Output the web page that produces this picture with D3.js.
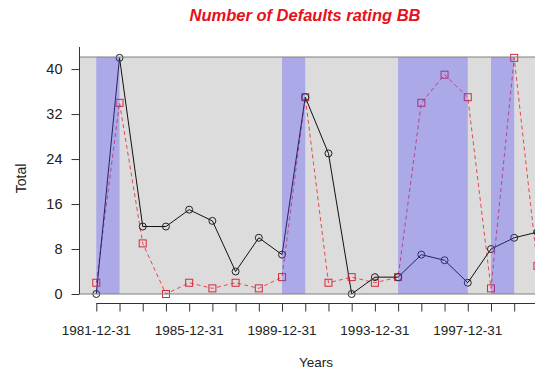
<!DOCTYPE html>
<html>
<head>
<meta charset="utf-8">
<script src="https://cdn.jsdelivr.net/npm/d3@7"></script>
<style>
  html, body { margin: 0; padding: 0; background: #ffffff; }
  svg { display: block; }
  text { font-family: "Liberation Sans", Arial, sans-serif; fill: #222; }
</style>
</head>
<body>
<svg id="chart" width="535" height="376"></svg>
<script>
// Yearly default counts (rating BB)
const years = [1981, 1982, 1983, 1984, 1985, 1986, 1987, 1988, 1989, 1990,
               1991, 1992, 1993, 1994, 1995, 1996, 1997, 1998, 1999, 2000];
const seriesBlack = [0, 42, 12, 12, 15, 13, 4, 10, 7, 35, 25, 0, 3, 3, 7, 6, 2, 8, 10, 11];
const seriesRed   = [2, 34, 9, 0, 2, 1, 2, 1, 3, 35, 2, 3, 2, 3, 34, 39, 35, 1, 42, 5];

// Shaded periods (start year, end year)
const bandStart = [1981, 1989, 1994, 1998];
const bandEnd   = [1982, 1990, 1997, 1999];

const yTicks = [0, 8, 16, 24, 32, 40];
const xLabelYears = [1981, 1985, 1989, 1993, 1997];
const xLabels = ["1981-12-31", "1985-12-31", "1989-12-31", "1993-12-31", "1997-12-31"];

const svg = d3.select("#chart");
const W = 535, H = 376;

const x = d3.scaleLinear().domain([1981, 1999]).range([96.3, 514.2]);
const y = d3.scaleLinear().domain([0, 42.15]).range([294, 57]);

const plotLeft = 80;
const plotRight = W + 20;

// panel background
svg.append("rect")
  .attr("x", plotLeft).attr("y", y(42.15))
  .attr("width", plotRight - plotLeft).attr("height", y(0) - y(42.15))
  .attr("fill", "#dcdcdc");

// series lines
const line = d3.line().x((d, i) => x(years[i])).y(d => y(d));

svg.append("path").datum(seriesRed)
  .attr("d", line)
  .attr("fill", "none")
  .attr("stroke", "#e8484c")
  .attr("stroke-width", 1)
  .attr("stroke-dasharray", "4,3");

svg.append("path").datum(seriesBlack)
  .attr("d", line)
  .attr("fill", "none")
  .attr("stroke", "#111")
  .attr("stroke-width", 1);

svg.selectAll("rect.mk").data(seriesRed).enter().append("rect")
  .attr("class", "mk")
  .attr("x", (d, i) => x(years[i]) - 3.5)
  .attr("y", d => y(d) - 3.5)
  .attr("width", 7).attr("height", 7)
  .attr("fill", "none")
  .attr("stroke", "#d6283c")
  .attr("stroke-width", 1);

svg.selectAll("circle.mk").data(seriesBlack).enter().append("circle")
  .attr("class", "mk")
  .attr("cx", (d, i) => x(years[i]))
  .attr("cy", d => y(d))
  .attr("r", 3.5)
  .attr("fill", "none")
  .attr("stroke", "#222")
  .attr("stroke-width", 1);

// translucent shaded periods drawn over the series
svg.selectAll("rect.band").data(bandStart).enter().append("rect")
  .attr("class", "band")
  .attr("x", d => x(d))
  .attr("y", y(42.15))
  .attr("width", (d, i) => x(bandEnd[i]) - x(d))
  .attr("height", y(0) - y(42.15))
  .attr("fill", "rgba(80,70,255,0.34)");

// reference lines at top and bottom of the panel
[0, 42.15].forEach(v => {
  svg.append("line")
    .attr("x1", plotLeft).attr("x2", plotRight)
    .attr("y1", y(v)).attr("y2", y(v))
    .attr("stroke", "#808080").attr("stroke-width", 1.2);
});

// y axis
const yAxis = d3.axisLeft(y).tickValues(yTicks).tickSize(8).tickPadding(9);
const gy = svg.append("g").attr("transform", `translate(${plotLeft - 0.5},0)`).call(yAxis);
gy.select(".domain").remove();
gy.selectAll(".tick line").attr("stroke", "#333");
gy.selectAll(".tick text").style("font-size", "14.5px").attr("fill", "#222")
  .style("font-family", '"Liberation Sans", Arial, sans-serif');
svg.append("line")
  .attr("x1", plotLeft - 0.5).attr("x2", plotLeft - 0.5)
  .attr("y1", 47).attr("y2", y(0))
  .attr("stroke", "#333").attr("stroke-width", 1);

// x axis with yearly ticks
const allYears = d3.range(1981, 2003);
const xAxis = d3.axisBottom(x).tickValues(allYears).tickSize(8).tickFormat("");
const gx = svg.append("g").attr("transform", "translate(0,303.5)").call(xAxis);
gx.select(".domain").remove();
gx.selectAll(".tick line").attr("stroke", "#333");
svg.append("line")
  .attr("x1", x(1981)).attr("x2", plotRight)
  .attr("y1", 303.5).attr("y2", 303.5)
  .attr("stroke", "#333");

svg.selectAll("text.xl").data(xLabelYears).enter().append("text")
  .attr("class", "xl")
  .attr("x", d => x(d))
  .attr("y", 335)
  .attr("text-anchor", "middle")
  .style("font-size", "13.5px")
  .text((d, i) => xLabels[i]);

// axis titles
svg.append("text")
  .attr("x", 316).attr("y", 367)
  .attr("text-anchor", "middle")
  .style("font-size", "13.5px")
  .text("Years");

svg.append("text")
  .attr("transform", "translate(26,178.5) rotate(-90)")
  .attr("text-anchor", "middle")
  .style("font-size", "14px")
  .text("Total");

// title
svg.append("text")
  .attr("x", 305).attr("y", 20.5)
  .attr("text-anchor", "middle")
  .style("font-size", "16.5px")
  .style("font-weight", "bold")
  .style("font-style", "italic")
  .style("fill", "#e8101a")
  .text("Number of Defaults rating BB");
</script>
</body>
</html>
